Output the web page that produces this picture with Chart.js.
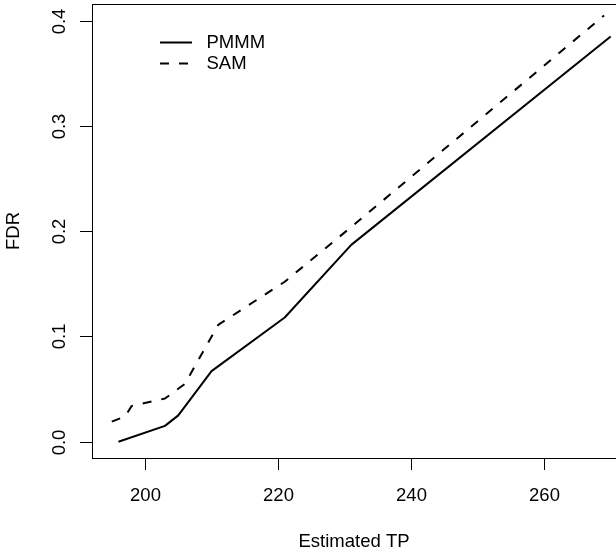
<!DOCTYPE html>
<html>
<head>
<meta charset="utf-8">
<script src="https://cdn.jsdelivr.net/npm/chart.js@4.4.0/dist/chart.umd.min.js"></script>
<style>
  html, body { margin: 0; padding: 0; background: #fff; }
  #wrap { width: 616px; height: 550px; }
</style>
</head>
<body>
<div id="wrap"><canvas id="fdr" width="616" height="550"></canvas></div>
<script>
// --- data ---
const pmmmTP  = [196, 203, 205, 210, 221, 231, 270];
const pmmmFDR = [0.000, 0.015, 0.025, 0.067, 0.118, 0.187, 0.385];

const samTP  = [195, 197, 198, 203, 206, 211, 221, 231, 269];
const samFDR = [0.019, 0.024, 0.034, 0.041, 0.055, 0.111, 0.152, 0.204, 0.405];

const xTicks = [200, 220, 240, 260];
const yTicks = [0.0, 0.1, 0.2, 0.3, 0.4];
const yTickLabels = ['0.0', '0.1', '0.2', '0.3', '0.4'];

const FONT = '18.5px "Liberation Sans", Arial, sans-serif';

const toPoints = (xs, ys) => xs.map((x, i) => ({ x, y: ys[i] }));

// R-style box, ticks, labels and legend
const baseAxes = {
  id: 'baseAxes',
  afterDraw(chart) {
    const { ctx, chartArea: a, scales: { x, y } } = chart;
    ctx.save();
    ctx.strokeStyle = '#000';
    ctx.fillStyle = '#000';
    ctx.lineWidth = 1;

    // box
    ctx.strokeRect(a.left + 0.5, a.top + 0.5, a.right - a.left, a.bottom - a.top);

    ctx.font = FONT;

    // x axis
    ctx.textAlign = 'center';
    ctx.textBaseline = 'alphabetic';
    xTicks.forEach(v => {
      const px = Math.round(x.getPixelForValue(v)) + 0.5;
      ctx.beginPath();
      ctx.moveTo(px, a.bottom);
      ctx.lineTo(px, a.bottom + 12);
      ctx.stroke();
      ctx.fillText(String(v), px, 501);
    });
    ctx.fillText('Estimated TP', (a.left + a.right) / 2, 546.5);

    // y axis
    yTicks.forEach((v, i) => {
      const py = Math.round(y.getPixelForValue(v)) + 0.5;
      ctx.beginPath();
      ctx.moveTo(a.left - 12, py);
      ctx.lineTo(a.left, py);
      ctx.stroke();
      ctx.save();
      ctx.translate(65, py);
      ctx.rotate(-Math.PI / 2);
      ctx.fillText(yTickLabels[i], 0, 0);
      ctx.restore();
    });
    ctx.save();
    ctx.translate(18.5, (a.top + a.bottom) / 2);
    ctx.rotate(-Math.PI / 2);
    ctx.fillText('FDR', 0, 0);
    ctx.restore();

    // legend
    ctx.textAlign = 'left';
    chart.data.datasets.forEach((ds, i) => {
      const ly = 42.5 + i * 21;
      ctx.save();
      ctx.lineWidth = 2;
      ctx.setLineDash(ds.borderDash || []);
      ctx.beginPath();
      ctx.moveTo(160, ly);
      ctx.lineTo(192, ly);
      ctx.stroke();
      ctx.restore();
      ctx.fillText(ds.label, 206.5, ly + 5);
    });

    ctx.restore();
  }
};

new Chart(document.getElementById('fdr'), {
  type: 'line',
  data: {
    datasets: [
      {
        label: 'PMMM',
        data: toPoints(pmmmTP, pmmmFDR),
        borderColor: '#000',
        borderWidth: 2,
        borderDash: [],
      },
      {
        label: 'SAM',
        data: toPoints(samTP, samFDR),
        borderColor: '#000',
        borderWidth: 2,
        borderDash: [9, 10],
      },
    ],
  },
  options: {
    responsive: false,
    animation: false,
    devicePixelRatio: 1,
    layout: { padding: { left: 92, top: 4, right: 0, bottom: 92 } },
    elements: {
      point: { radius: 0, hoverRadius: 0 },
      line: { tension: 0, borderCapStyle: 'butt', borderJoinStyle: 'round' },
    },
    plugins: {
      legend: { display: false },
      tooltip: { enabled: false },
    },
    scales: {
      x: { type: 'linear', min: 192.03, max: 270.8, display: false },
      y: { type: 'linear', min: -0.0155, max: 0.4159, display: false },
    },
  },
  plugins: [baseAxes],
});
</script>
</body>
</html>
